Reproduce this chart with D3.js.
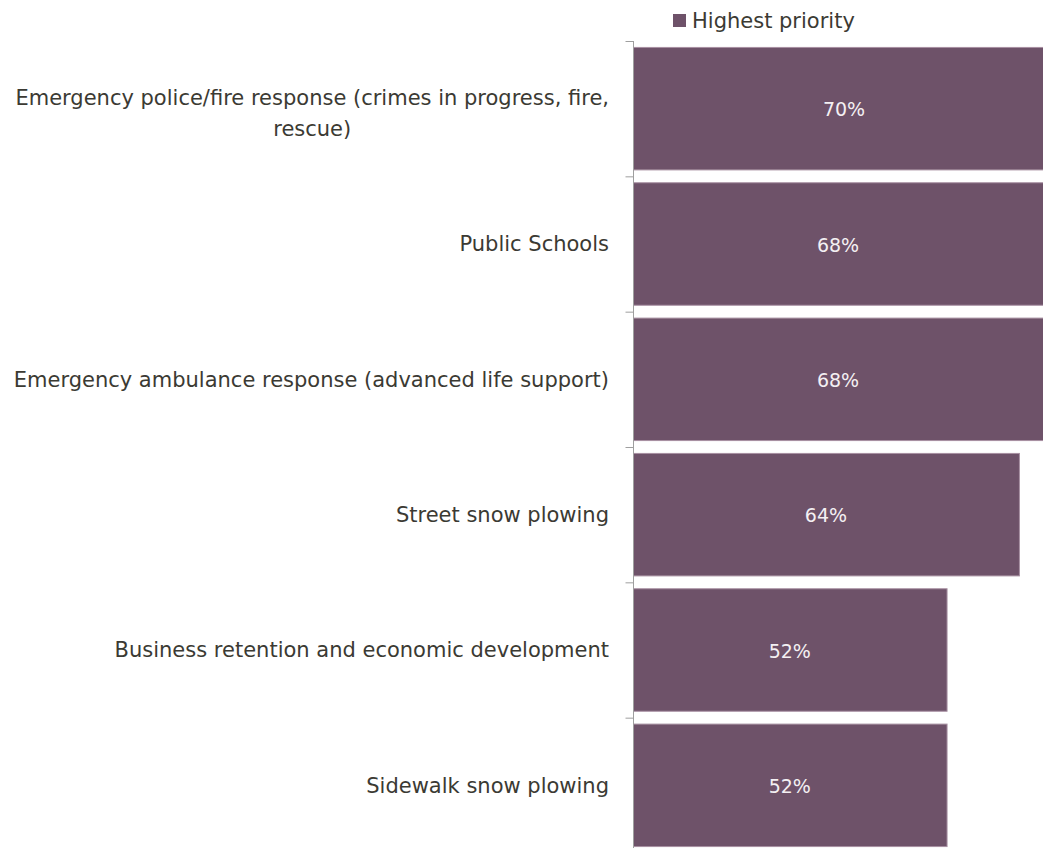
<!DOCTYPE html>
<html>
<head>
<meta charset="utf-8">
<script src="https://cdn.jsdelivr.net/npm/d3@7"></script>
<style>
  body { margin: 0; background: #fff; overflow: hidden; }
  svg { display: block; }
  .cat-label { font-family: "DejaVu Sans", sans-serif; font-size: 21px; fill: #3b3a33; }
  .val-label { font-family: "DejaVu Sans", sans-serif; font-size: 19px; fill: #f4f0f3; }
  .legend-label { font-family: "DejaVu Sans", sans-serif; font-size: 21px; fill: #3b3a33; }
</style>
</head>
<body>
<svg id="chart" width="1043" height="848"></svg>
<script>
"use strict";

// data
const categories = [
  ["Emergency police/fire response (crimes in progress, fire,", "rescue)"],
  ["Public Schools"],
  ["Emergency ambulance response (advanced life support)"],
  ["Street snow plowing"],
  ["Business retention and economic development"],
  ["Sidewalk snow plowing"]
];
const values = [0.70, 0.68, 0.68, 0.64, 0.52, 0.52];
const seriesName = "Highest priority";

const barColor = "#6e5269";
const barEdge = "#a890a2";

const svg = d3.select("#chart");
const margin = {left: 633, top: 41};

const x = d3.scaleLinear().domain([0, 1]).range([0, 603]);
const y = d3.scaleBand()
    .domain(d3.range(categories.length))
    .range([0, 812])
    .paddingInner(0.095)
    .paddingOuter(0.0475);

const g = svg.append("g").attr("transform", `translate(${margin.left},${margin.top})`);

// bars
g.selectAll("rect.bar")
  .data(values)
  .join("rect")
    .attr("class", "bar")
    .attr("x", 0.5)
    .attr("y", (d, i) => y(i))
    .attr("width", d => x(d))
    .attr("height", y.bandwidth())
    .attr("fill", barColor)
    .attr("stroke", barEdge)
    .attr("stroke-width", 1);

// value labels
g.selectAll("text.val-label")
  .data(values)
  .join("text")
    .attr("class", "val-label")
    .attr("x", d => x(d) / 2)
    .attr("y", (d, i) => y(i) + y.bandwidth() / 2 + 1)
    .attr("dy", "0.35em")
    .attr("text-anchor", "middle")
    .text(d => `${Math.round(d * 100)}%`);

// axis: line plus ticks at band edges
const yAxis = d3.axisLeft(d3.scaleLinear().domain([0, categories.length]).range([0, 812]))
    .ticks(categories.length)
    .tickSize(8)
    .tickFormat("");
const axisG = g.append("g").call(yAxis);
axisG.select(".domain").attr("stroke", "#9f9f9f").attr("d", "M0.5,0V812");
axisG.selectAll(".tick line").attr("stroke", "#9f9f9f").attr("transform", "translate(0.5,0)");

// category labels (wrapped ones are centred on the widest line)
const labelRight = -24;
g.selectAll("g.cat")
  .data(categories)
  .join("g")
    .attr("class", "cat")
    .each(function(lines, i) {
      const grp = d3.select(this);
      const lh = 31;
      const extra = lines.length > 1 ? 4 : 0;
      const cy = y(i) + y.bandwidth() / 2 - (lines.length - 1) * lh / 2 + extra;
      const txt = grp.append("text")
        .attr("class", "cat-label")
        .attr("text-anchor", lines.length > 1 ? "middle" : "end");
      lines.forEach((ln, k) => {
        txt.append("tspan")
          .attr("x", labelRight)
          .attr("y", cy + k * lh)
          .attr("dy", "0.35em")
          .text(ln);
      });
      if (lines.length > 1) {
        const w = txt.select("tspan").node().getComputedTextLength();
        txt.selectAll("tspan").attr("x", labelRight - w / 2);
      }
    });

// legend
const leg = svg.append("g").attr("transform", "translate(673,14)");
leg.append("rect").attr("width", 13).attr("height", 13).attr("fill", barColor);
leg.append("text")
    .attr("class", "legend-label")
    .attr("x", 19)
    .attr("y", 7)
    .attr("dy", "0.35em")
    .text(seriesName);
</script>
</body>
</html>
